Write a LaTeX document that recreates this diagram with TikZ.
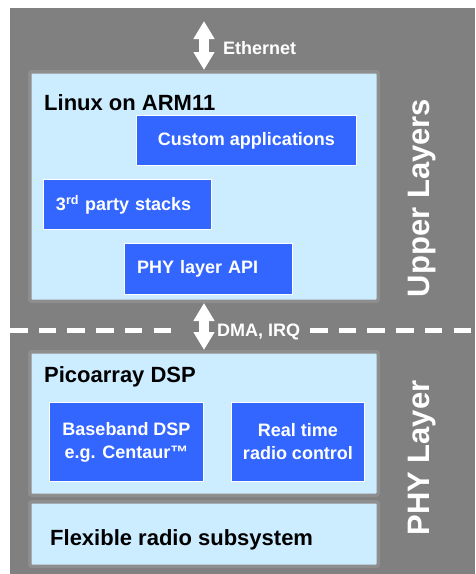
\documentclass[tikz,border=0pt]{standalone}
\usepackage{fontspec}
\setmainfont{Liberation Sans}
\usetikzlibrary{arrows.meta}
\definecolor{bggray}{RGB}{128,128,128}
\definecolor{rimgray}{RGB}{142,142,142}
\definecolor{paleblue}{RGB}{204,236,255}
\definecolor{boxblue}{RGB}{51,102,255}
\begin{document}
\begin{tikzpicture}[x=1pt,y=-1pt,
  layer/.style={draw=rimgray, line width=3.5pt, fill=paleblue, rounded corners=2pt, minimum width=348.5pt, inner sep=0pt},
  blk/.style={draw=white, line width=0.8pt, fill=boxblue, text=white, font=\fontsize{18}{23}\selectfont\bfseries, inner sep=0pt, align=center},
  padl/.style={inner xsep=13pt, text width=#1, align=left},
  ttl/.style={font=\fontsize{22}{26}\selectfont\bfseries, anchor=base west, inner sep=0pt},
  lbl/.style={text=white, font=\fontsize{18}{22}\selectfont\bfseries, anchor=base west, inner sep=0pt},
  side/.style={text=white, font=\fontsize{31}{36}\selectfont\bfseries, rotate=90},
  fat/.style={white, line width=10pt, {Triangle[length=18pt,width=20pt]}-{Triangle[length=18pt,width=20pt]}},
  divider/.style={white, line width=5pt, dash pattern=on 17.5pt off 11.2pt}]
\useasboundingbox (0,0) rectangle (475,574);
\fill[bggray] (10,8) rectangle (475,574);
\node[layer, minimum height=229.5pt] (linux) at (204,186.5){};
\node[ttl] (linuxT) at (44,110){Linux on ARM11};
\node[blk, minimum width=220pt, minimum height=50pt] (apps) at (246.5,140.5){Custom applications};
\node[blk, padl=142pt, minimum height=50pt] (stacks) at (127,204.5){3\textsuperscript{rd} party stacks};
\node[blk, padl=142pt, minimum height=51pt] (api) at (208,269){PHY layer API};
\coordinate (ethtop) at (204,21);
\draw[fat] (ethtop) -- (linux.north);
\node[lbl] (ethT) at (223,54){Ethernet};
\draw[divider] (10,330) -- (173,330);
\draw[divider] (310,330) -- (475,330);
\node[layer, minimum height=143.5pt] (pico) at (204,423.5){};
\node[ttl] (picoT) at (44,382){Picoarray DSP};
\node[blk, minimum width=154pt, minimum height=79pt] (bb) at (126.5,442){Baseband DSP\\e.g. Centaur™};
\node[blk, minimum width=133pt, minimum height=79pt] (rt) at (298,442){Real time\\radio control};
\node[layer, minimum height=64.5pt] (radio) at (204,534){};
\node[ttl] (radioT) at (50,545){Flexible radio subsystem};
\draw[fat] (linux.south) -- (pico.north);
\node[lbl] (dmaT) at (217,336){DMA, IRQ};
\node[side] (upper) at (422,198){Upper Layers};
\node[side] (phy) at (422,458){PHY Layer};
\end{tikzpicture}
\end{document}
